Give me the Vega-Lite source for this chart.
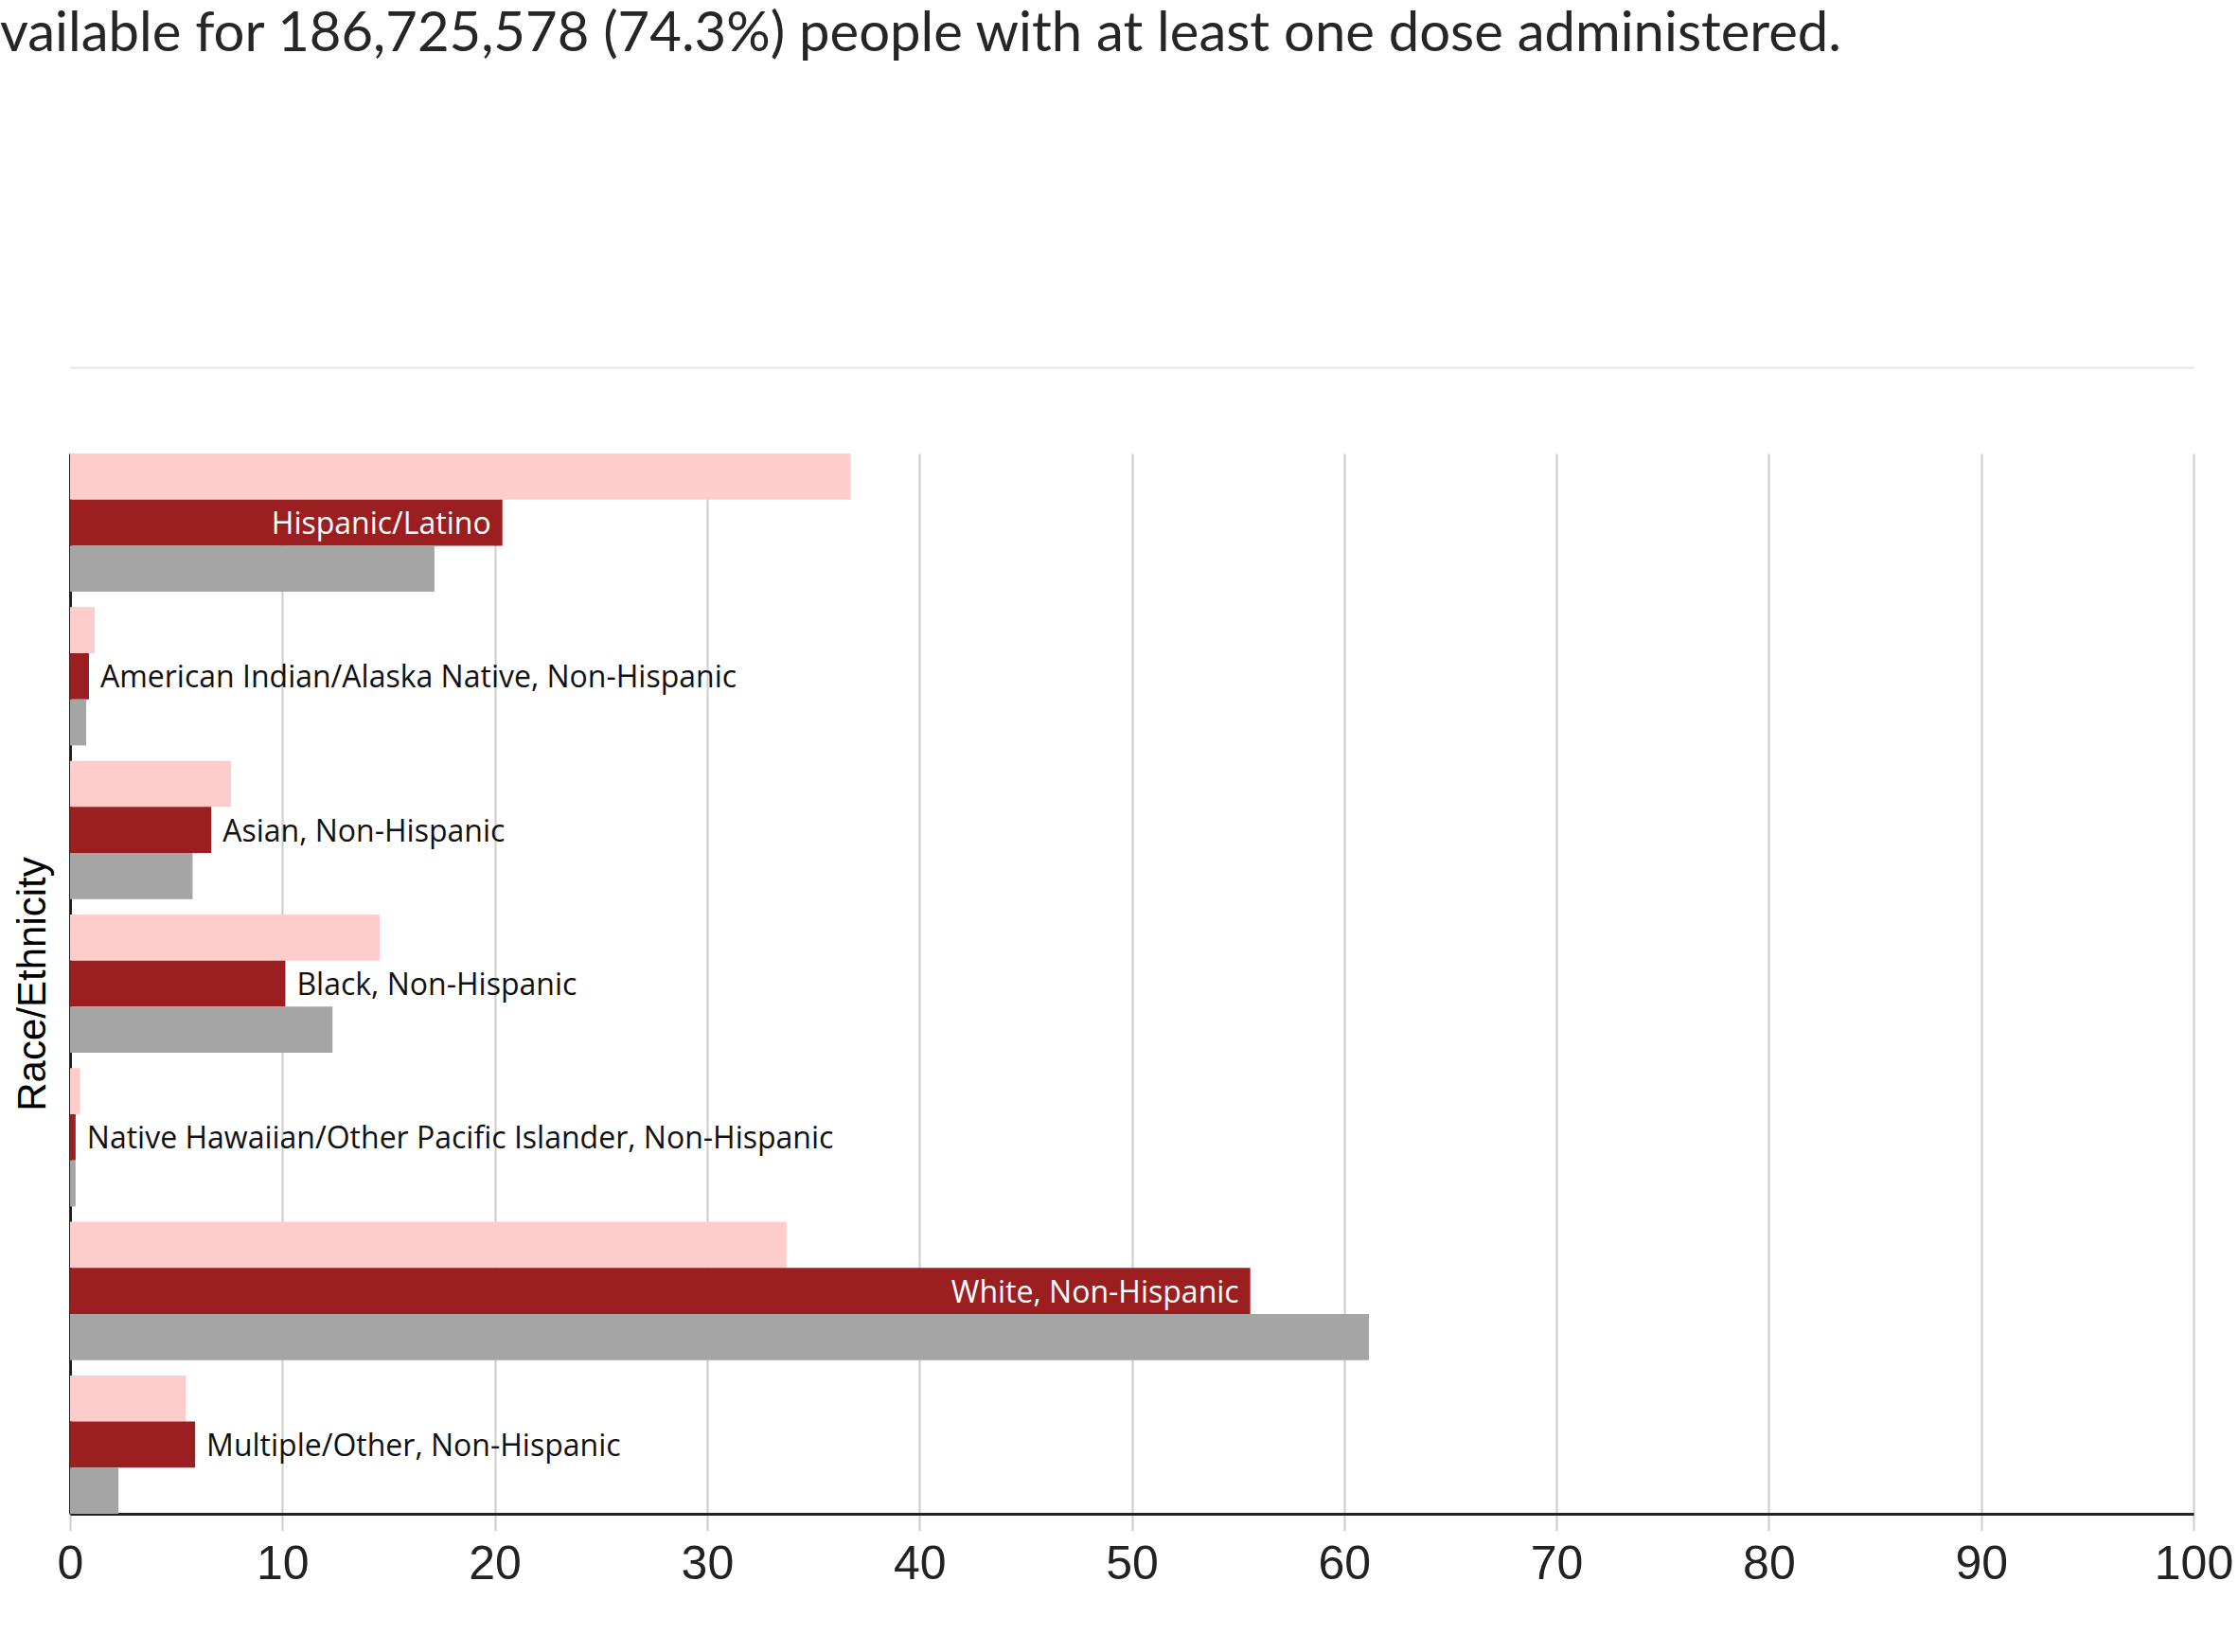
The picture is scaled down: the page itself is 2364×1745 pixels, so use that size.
{
  "$schema": "https://vega.github.io/schema/vega-lite/v6.json",
  "width": 2243,
  "height": 1120,
  "autosize": {"type": "none"},
  "padding": {"left": 74, "top": 479, "right": 47, "bottom": 146},
  "background": "white",
  "config": {"view": {"stroke": null}},
  "title": {
    "text": "vailable for 186,725,578 (74.3%) people with at least one dose administered.",
    "anchor": "start",
    "frame": "group",
    "dx": -74,
    "font": "Lato",
    "fontSize": 58,
    "fontWeight": "normal",
    "color": "#262626",
    "baseline": "alphabetic",
    "offset": 276
  },
  "data": {
    "values": [
      {"race": "Hispanic/Latino", "series": "Measure A", "value": 36.76},
      {"race": "Hispanic/Latino", "series": "At least one dose", "value": 20.36},
      {"race": "Hispanic/Latino", "series": "US population", "value": 17.16},
      {"race": "American Indian/Alaska Native, Non-Hispanic", "series": "Measure A", "value": 1.16},
      {"race": "American Indian/Alaska Native, Non-Hispanic", "series": "At least one dose", "value": 0.89},
      {"race": "American Indian/Alaska Native, Non-Hispanic", "series": "US population", "value": 0.76},
      {"race": "Asian, Non-Hispanic", "series": "Measure A", "value": 7.58},
      {"race": "Asian, Non-Hispanic", "series": "At least one dose", "value": 6.65},
      {"race": "Asian, Non-Hispanic", "series": "US population", "value": 5.77},
      {"race": "Black, Non-Hispanic", "series": "Measure A", "value": 14.58},
      {"race": "Black, Non-Hispanic", "series": "At least one dose", "value": 10.14},
      {"race": "Black, Non-Hispanic", "series": "US population", "value": 12.36},
      {"race": "Native Hawaiian/Other Pacific Islander, Non-Hispanic", "series": "Measure A", "value": 0.47},
      {"race": "Native Hawaiian/Other Pacific Islander, Non-Hispanic", "series": "At least one dose", "value": 0.26},
      {"race": "Native Hawaiian/Other Pacific Islander, Non-Hispanic", "series": "US population", "value": 0.26},
      {"race": "White, Non-Hispanic", "series": "Measure A", "value": 33.74},
      {"race": "White, Non-Hispanic", "series": "At least one dose", "value": 55.58},
      {"race": "White, Non-Hispanic", "series": "US population", "value": 61.17},
      {"race": "Multiple/Other, Non-Hispanic", "series": "Measure A", "value": 5.46},
      {"race": "Multiple/Other, Non-Hispanic", "series": "At least one dose", "value": 5.89},
      {"race": "Multiple/Other, Non-Hispanic", "series": "US population", "value": 2.28}
    ]
  },
  "encoding": {
    "y": {
      "field": "race",
      "type": "nominal",
      "sort": ["Hispanic/Latino", "American Indian/Alaska Native, Non-Hispanic", "Asian, Non-Hispanic", "Black, Non-Hispanic", "Native Hawaiian/Other Pacific Islander, Non-Hispanic", "White, Non-Hispanic", "Multiple/Other, Non-Hispanic"],
      "scale": {"paddingInner": 0.1, "paddingOuter": 0},
      "axis": {
        "title": "Race/Ethnicity",
        "titleFont": "Liberation Sans",
        "titleFontSize": 42,
        "titleFontWeight": "normal",
        "titleColor": "#000000",
        "titlePadding": 18,
        "labels": false,
        "ticks": false,
        "grid": false,
        "domainColor": "#222222",
        "domainWidth": 3
      }
    },
    "yOffset": {
      "field": "series",
      "type": "nominal",
      "sort": ["Measure A", "At least one dose", "US population"],
      "scale": {"paddingInner": 0, "paddingOuter": 0}
    }
  },
  "layer": [
    {
      "mark": {"type": "bar"},
      "encoding": {
        "x": {
          "field": "value",
          "type": "quantitative",
          "scale": {"domain": [0, 100], "nice": false},
          "axis": {
            "values": [0, 10, 20, 30, 40, 50, 60, 70, 80, 90, 100],
            "title": null,
            "grid": true,
            "gridColor": "#cccccc",
            "gridWidth": 2,
            "tickColor": "#cccccc",
            "tickWidth": 2,
            "tickSize": 18,
            "domainColor": "#222222",
            "domainWidth": 3,
            "labelFont": "Liberation Sans",
            "labelFontSize": 50,
            "labelColor": "#222222",
            "labelPadding": 10,
            "labelFlush": false,
            "labelOverlap": false
          }
        },
        "color": {
          "field": "series",
          "type": "nominal",
          "scale": {"domain": ["Measure A", "At least one dose", "US population"], "range": ["#ffcccc", "#9b1e21", "#a5a5a5"]},
          "legend": null
        }
      }
    },
    {
      "transform": [{"filter": "datum.series === 'At least one dose' && datum.value >= 15"}],
      "mark": {"type": "text", "align": "right", "baseline": "middle", "dx": -12, "dy": 2, "font": "Open Sans", "fontSize": 32, "color": "#ffffff"},
      "encoding": {
        "x": {
          "field": "value",
          "type": "quantitative",
          "axis": {"orient": "top", "offset": 91, "labels": false, "ticks": false, "grid": false, "title": null, "domainColor": "#e5e5e5", "domainWidth": 2}
        },
        "text": {"field": "race"}
      }
    },
    {
      "transform": [{"filter": "datum.series === 'At least one dose' && datum.value < 15"}],
      "mark": {"type": "text", "align": "left", "baseline": "middle", "dx": 12, "dy": 2, "font": "Open Sans", "fontSize": 32, "color": "#111111"},
      "encoding": {
        "x": {"field": "value", "type": "quantitative", "axis": null},
        "text": {"field": "race"}
      }
    }
  ],
  "resolve": {"axis": {"x": "independent"}}
}
